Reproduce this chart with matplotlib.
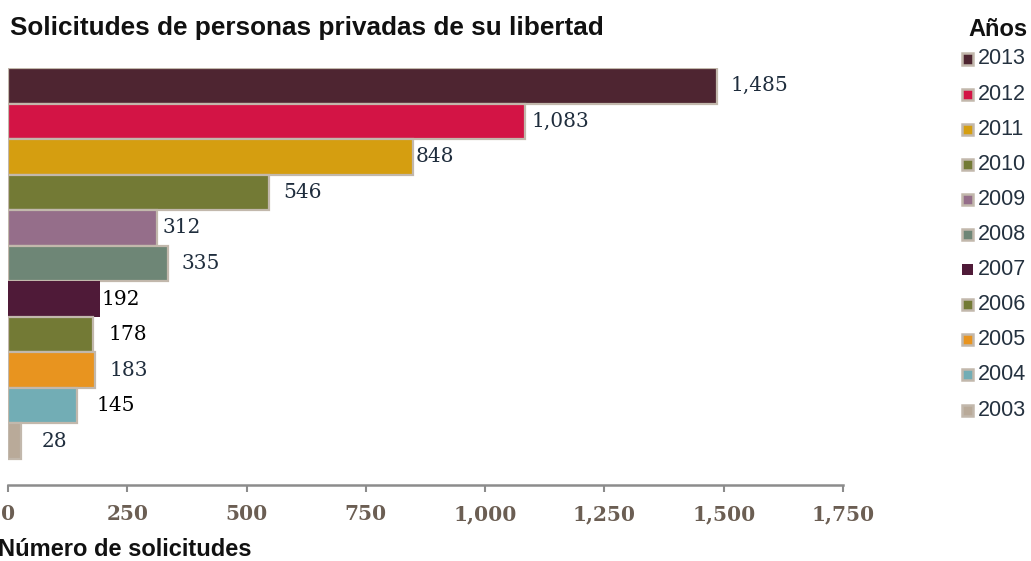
import matplotlib
matplotlib.use("Agg")
import matplotlib.pyplot as plt
from matplotlib.patches import Rectangle

years = ["2013", "2012", "2011", "2010", "2009", "2008", "2007", "2006", "2005", "2004", "2003"]
values = [1485, 1083, 848, 546, 312, 335, 192, 178, 183, 145, 28]
colors = ["#4e2531", "#d31445", "#d59e10", "#737a35", "#956e8a", "#6e8676",
          "#4f1a38", "#737a35", "#e8941f", "#72adb5", "#b9aa99"]
xticks = [0, 250, 500, 750, 1000, 1250, 1500, 1750]
xtick_labels = ["0", "250", "500", "750", "1,000", "1,250", "1,500", "1,750"]
title = "Solicitudes de personas privadas de su libertad"
xlabel = "Número de solicitudes"
legend_title = "Años"

# label styling (layout only)
label_offsets_px = [14, 7, 3, 15, 6, 14, 2, 16, 14, 19, 20]
label_colors = ["#1f2d3d", "#1f2d3d", "#1f2d3d", "#1f2d3d", "#1f2d3d", "#1f2d3d",
                "#000000", "#000000", "#1f2d3d", "#000000", "#1f2d3d"]
edge = "#c2b8ac"

W, H = 1031, 561
fig = plt.figure(figsize=(W / 100, H / 100), dpi=100)
ax = fig.add_axes([8 / W, 1 - 485 / H, (843 - 8) / W, (485 - 68) / H])

n = len(years)
ypos = [n - 1 - i for i in range(n)]
for i in range(n):
    ec = "none" if years[i] == "2007" else edge
    ax.barh(ypos[i], values[i], height=1.0, color=colors[i], edgecolor=ec,
            linewidth=1.6, zorder=2)
    ax.annotate(f"{values[i]:,}", xy=(values[i], ypos[i]),
                xytext=(label_offsets_px[i] * 0.72, 0), textcoords="offset points",
                ha="left", va="center", fontsize=14.5, family="DejaVu Serif",
                color=label_colors[i])

ax.set_xlim(0, 1750)
ax.set_ylim(-1.23, n - 0.5)
for s in ["top", "right", "left"]:
    ax.spines[s].set_visible(False)
ax.spines["bottom"].set_color("#8c8c8c")
ax.spines["bottom"].set_linewidth(1.8)
ax.set_yticks([])
ax.set_xticks(xticks)
ax.set_xticklabels(xtick_labels, fontsize=14.5, fontweight="bold",
                   family="DejaVu Serif", color="#6b5e53")
ax.tick_params(axis="x", length=5, width=1.5, color="#8c8c8c", pad=9)

fig.text(10 / W, 1 - 28 / H, title, fontsize=18.8, fontweight="bold",
         family="Liberation Sans", color="#111111", va="center", ha="left")
fig.text(-2 / W, 1 - 549 / H, xlabel, fontsize=17, fontweight="bold",
         family="Liberation Sans", color="#111111", va="center", ha="left")
fig.text(968 / W, 1 - 29 / H, legend_title, fontsize=17, fontweight="bold",
         family="Liberation Sans", color="#111111", va="center", ha="left")

for i in range(n):
    yc = 59 + i * 35.1
    ec = "none" if years[i] == "2007" else edge
    fig.patches.append(Rectangle((962 / W, 1 - (yc + 5.5) / H), 11 / W, 11 / H,
                                 transform=fig.transFigure, facecolor=colors[i],
                                 edgecolor=ec, linewidth=1.8))
    fig.text(978 / W, 1 - yc / H, years[i], fontsize=15.5, family="Liberation Sans",
             color="#24313f", va="center", ha="left")

fig.savefig("out.png", dpi=100)
